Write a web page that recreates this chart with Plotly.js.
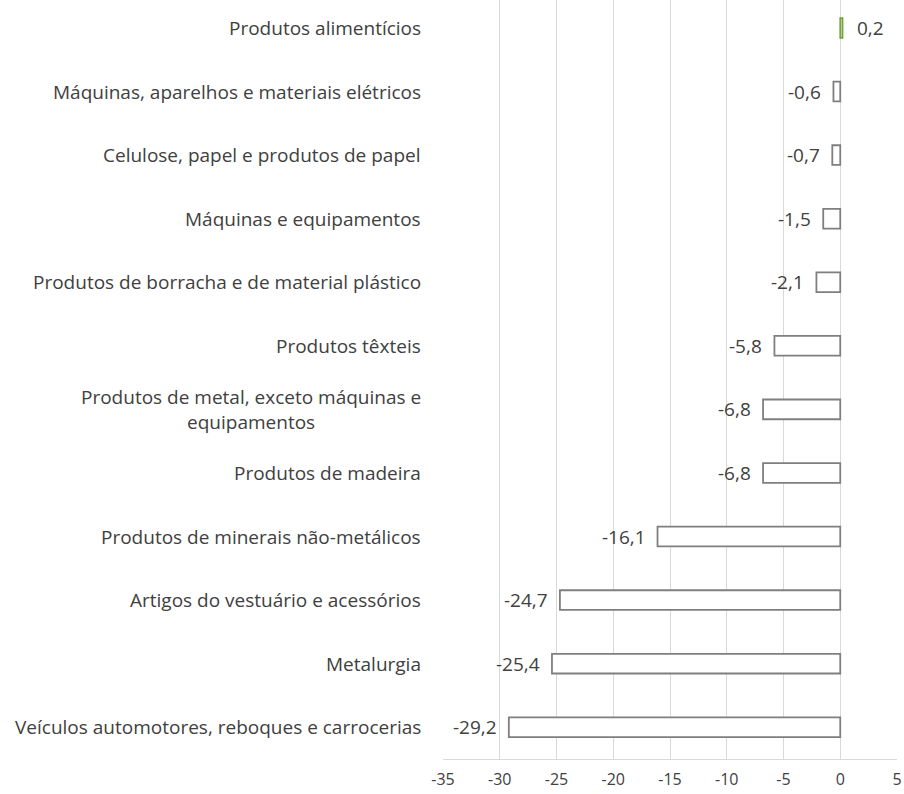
<!DOCTYPE html>
<html><head><meta charset="utf-8">
<script src="https://cdn.plot.ly/plotly-3.0.1.min.js"></script>
<style>html,body{margin:0;padding:0;background:#fff;}#chart{width:904px;height:794px;}</style>
</head><body><div id="chart"></div>
<script>
const categories = [
  "Produtos alimentícios",
  "Máquinas, aparelhos e materiais elétricos",
  "Celulose, papel e produtos de papel",
  "Máquinas e equipamentos",
  "Produtos de borracha e de material plástico",
  "Produtos têxteis",
  "Produtos de metal, exceto máquinas e<br>equipamentos",
  "Produtos de madeira",
  "Produtos de minerais não-metálicos",
  "Artigos do vestuário e acessórios",
  "Metalurgia",
  "Veículos automotores, reboques e carrocerias"
];
const values = [0.2, -0.6, -0.7, -1.5, -2.1, -5.8, -6.8, -6.8, -16.1, -24.7, -25.4, -29.2];
const valueLabels = ["0,2", "-0,6", "-0,7", "-1,5", "-2,1", "-5,8", "-6,8", "-6,8", "-16,1", "-24,7", "-25,4", "-29,2"];
const xTicks = [-35, -30, -25, -20, -15, -10, -5, 0, 5];

const FONT = "'Open Sans', Lato, sans-serif";
const TXT = "#404040";
const FS = 19;
const ids = categories.map((c, i) => "c" + i);

const trace = {
  type: "bar",
  orientation: "h",
  x: values,
  y: ids,
  width: 0.31,
  marker: {
    color: "#ffffff",
    line: {color: values.map(v => v >= 0 ? "#77a33c" : "#7f7f7f"), width: 1.8}
  },
  hoverinfo: "skip"
};

const annotations = [];
categories.forEach((c, i) => {
  annotations.push({
    xref: "paper", yref: "y", x: 0, y: ids[i], xanchor: "right", yanchor: "middle",
    xshift: -20, text: c, showarrow: false, align: "center",
    font: {family: FONT, size: FS, color: TXT}
  });
  const v = values[i];
  annotations.push({
    xref: "x", yref: "y", x: v, y: ids[i], xanchor: v >= 0 ? "left" : "right", yanchor: "middle",
    xshift: v >= 0 ? 12 : -10, text: valueLabels[i], showarrow: false,
    font: {family: FONT, size: FS, color: TXT}
  });
});

const layout = {
  width: 904, height: 794,
  margin: {l: 443, r: 7, t: 0, b: 35},
  paper_bgcolor: "#ffffff", plot_bgcolor: "#ffffff",
  showlegend: false,
  xaxis: {
    range: [-35, 5], tickvals: xTicks, ticktext: xTicks.map(String),
    showgrid: true, gridcolor: "#d9d9d9", gridwidth: 1,
    zeroline: true, zerolinecolor: "#d9d9d9", zerolinewidth: 1,
    showline: true, linecolor: "#d9d9d9", linewidth: 1, mirror: false,
    ticks: "", ticklabelstandoff: 6,
    tickfont: {family: FONT, size: 16, color: TXT}
  },
  yaxis: {
    type: "category", categoryarray: ids, range: [11.5, -0.44],
    showticklabels: false, showgrid: false, zeroline: false, showline: false, ticks: ""
  },
  annotations: annotations
};

Plotly.newPlot("chart", [trace], layout, {displayModeBar: false, staticPlot: true});
</script></body></html>
